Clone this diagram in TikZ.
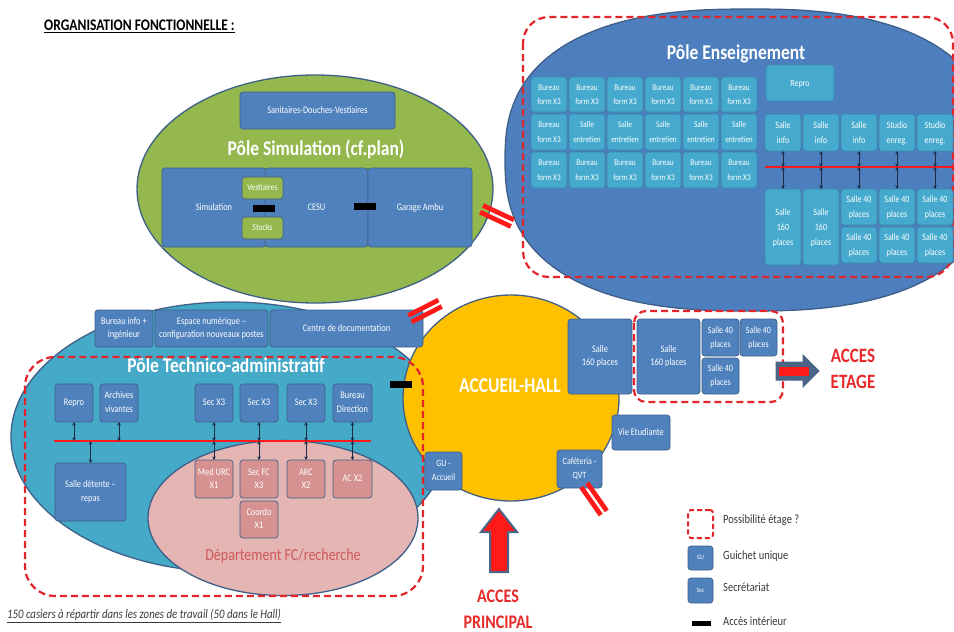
\documentclass[tikz,border=0pt]{standalone}
\usepackage{fontspec}
\setmainfont{Carlito}
\usepackage{graphicx}
\usetikzlibrary{arrows.meta,shapes.geometric}

\definecolor{bord}{HTML}{3E5F88}
\definecolor{cBlue}{HTML}{4F81BD}
\definecolor{cEns}{HTML}{4D7EBD}
\definecolor{cTealB}{HTML}{45AACD}
\definecolor{cTealD}{HTML}{3A86AC}
\definecolor{cTech}{HTML}{45A9C8}
\definecolor{cGreen}{HTML}{94B84E}
\definecolor{cPink}{HTML}{E5B5B4}
\definecolor{cPinkBox}{HTML}{D69291}
\definecolor{cPinkTxt}{HTML}{CE5A58}
\definecolor{cYel}{HTML}{FFC000}
\definecolor{cRed}{HTML}{FF1A1A}
\definecolor{cDash}{HTML}{E2252B}
\definecolor{cTxtRed}{HTML}{E82A2A}
\definecolor{cNavy}{HTML}{1C2B45}
\definecolor{cSlate}{HTML}{4A6585}
\definecolor{cGray}{HTML}{3A3A3A}

\newcommand{\T}[1]{\scalebox{1}[1.2]{\begin{tabular}{@{}c@{}}#1\end{tabular}}}
\newcommand{\bx}[7]{\node[#2, minimum width={((#5)-(#3))*1pt}, minimum height={((#6)-(#4))*1pt}] (#1) at ({((#3)+(#5))/2},{((#4)+(#6))/2}) {\T{#7}};}
\newcommand{\dbar}[3]{\begin{scope}[shift={(#1,#2)},rotate=#3]
 \fill[cRed] (-17,-6) rectangle (17,-1.3);
 \fill[cRed] (-17,1.3) rectangle (17,6);
\end{scope}}

\tikzset{
 base/.style={draw=bord, line width=0.7pt, rounded corners=3pt, inner sep=0pt, outer sep=0pt, text=white},
 bbox/.style={base, fill=cBlue, font=\fontsize{8.4}{11.2}\selectfont},
 bboxs/.style={base, fill=cBlue, font=\fontsize{8}{11.5}\selectfont},
 gbox/.style={base, fill=cGreen, font=\fontsize{7.8}{10}\selectfont},
 ebox/.style={base, draw=cTealD, fill=cTealB, font=\fontsize{7.3}{12}\selectfont},
 ebox2/.style={base, draw=cTealD, fill=cTealB, font=\fontsize{8}{12.5}\selectfont},
 pbox/.style={base, fill=cPinkBox, font=\fontsize{8.4}{11}\selectfont},
 region/.style={ellipse, draw=bord, line width=1.3pt, inner sep=0pt},
 pole/.style={text=white, inner sep=0pt, font=\bfseries\fontsize{17.5}{20}\selectfont},
 dashbox/.style={draw=cDash, line width=2.2pt, dash pattern=on 7pt off 4pt},
 dar/.style={{Stealth[length=3.5pt,width=3.5pt]}-{Stealth[length=3.5pt,width=3.5pt]}, draw=cNavy, line width=0.8pt},
 redline/.style={draw=cRed, line width=1.6pt},
 accbar/.style={fill=black, draw=none, inner sep=0pt},
 legtxt/.style={anchor=west, inner sep=0pt, text=cGray, font=\fontsize{10.5}{12}\selectfont},
}

\begin{document}
\begin{tikzpicture}[x=1pt,y=-1pt]
\useasboundingbox (0,0) rectangle (954,632);
\fill[white] (0,0) rectangle (954,632);

% ---------- title ----------
\node[anchor=west, inner sep=0pt, font=\bfseries\fontsize{13.5}{16}\selectfont] (title) at (44,27) {\T{\underline{ORGANISATION FONCTIONNELLE :}}};

% ---------- Pole Enseignement ----------
\draw[fill=cEns, draw=bord, line width=1.3pt] plot[domain=1.5:358.5, samples=120, variable=\t]
  ({750+245*sign(cos(\t))*abs(cos(\t))^0.8}, {160+151*sign(sin(\t))*abs(sin(\t))^0.8}) -- cycle;
\draw[dashbox, rounded corners=26pt] (523,17) rectangle (953,277);
\node[pole] (tEns) at (736,55) {\T{Pôle Enseignement}};

\foreach \c in {0,...,5} {
  \bx{ea\c}{ebox}{531+38*\c}{77}{567+38*\c}{112}{Bureau\\form X3}
  \bx{ec\c}{ebox}{531+38*\c}{152}{567+38*\c}{188}{Bureau\\form X3}
}
\bx{eb0}{ebox}{531}{114}{567}{150}{Bureau\\form X3}
\foreach \c in {1,...,5} {
  \bx{eb\c}{ebox}{531+38*\c}{114}{567+38*\c}{150}{Salle\\entretien}
}
\bx{erepro}{ebox2}{766}{65}{834}{101}{Repro}

\bx{eu1}{ebox2}{765}{114}{801}{151}{Salle\\info}
\bx{eu2}{ebox2}{803}{114}{839}{151}{Salle\\info}
\bx{eu3}{ebox2}{841}{114}{877}{151}{Salle\\info}
\bx{eu4}{ebox2}{879}{114}{915}{151}{Studio\\enreg.}
\bx{eu5}{ebox2}{917}{114}{953}{151}{Studio\\enreg.}
\coordinate (eline) at (765,167);
\coordinate (elineR) at (954,167);
\draw[redline] (eline) -- (elineR);

\bx{el1}{ebox2}{765}{189}{801}{265}{Salle\\160\\places}
\bx{el2}{ebox2}{803}{189}{839}{265}{Salle\\160\\places}
\bx{el3}{ebox2}{841}{189}{877}{225}{Salle 40\\places}
\bx{el3b}{ebox2}{841}{227}{877}{263}{Salle 40\\places}
\bx{el4}{ebox2}{879}{189}{915}{225}{Salle 40\\places}
\bx{el4b}{ebox2}{879}{227}{915}{263}{Salle 40\\places}
\bx{el5}{ebox2}{917}{189}{953}{225}{Salle 40\\places}
\bx{el5b}{ebox2}{917}{227}{953}{263}{Salle 40\\places}
\foreach \i in {1,...,5} {
  \draw[dar] (eu\i.south) -- (eu\i.south |- eline);
  \draw[dar] (eu\i.south |- eline) -- (el\i.north);
}

% ---------- Pole Simulation ----------
\node[region, fill=cGreen, minimum width=356pt, minimum height=228pt] (simE) at (315,189) {};
\bx{sanit}{bbox}{240}{92}{395}{129}{Sanitaires-Douches-Vestiaires}
\node[pole] (tSim) at (316,151) {\T{Pôle Simulation (cf.plan)}};
\bx{simu}{bbox}{162}{168}{266}{247}{Simulation}
\bx{cesu}{bbox}{265}{168}{368}{247}{CESU}
\bx{garage}{bbox}{368}{168}{472}{247}{Garage Ambu}
\bx{vest}{gbox}{242}{177}{283}{199}{Vestiaires}
\bx{stocks}{gbox}{242}{217}{283}{239}{Stocks}
\node[accbar, minimum width=22pt, minimum height=7pt] (acc1) at (264,208.5) {};
\node[accbar, minimum width=22pt, minimum height=7pt] (acc2) at (365,206.5) {};
\dbar{497}{216}{-25}

% ---------- Pole Technico-administratif ----------
\node[region, fill=cTech, minimum width=438pt, minimum height=270pt] (techE) at (230,437) {};
\node[region, fill=cPink, minimum width=270pt, minimum height=155pt] (fcE) at (283,518) {};

% ---------- Accueil ----------
\node[region, fill=cYel, minimum width=216pt, minimum height=206pt] (hall) at (511,398) {};
\node[pole] (tHall) at (510,388) {\T{ACCUEIL-HALL}};

\bx{binfo}{bbox}{95}{310}{153}{347}{Bureau info +\\ingénieur}
\bx{espace}{bbox}{155}{310}{268}{347}{Espace numérique –\\configuration nouveaux postes}
\bx{cdoc}{bbox}{270}{310}{423}{347}{Centre de documentation}
\dbar{425}{311}{27}

\node[pole] (tTech) at (226,368) {\T{Pôle Technico-administratif}};
\bx{repro2}{bbox}{55}{384}{93}{422}{Repro}
\bx{archiv}{bbox}{100}{384}{138}{422}{Archives\\vivantes}
\bx{sec1}{bbox}{195}{384}{233}{422}{Sec X3}
\bx{sec2}{bbox}{240}{384}{278}{422}{Sec X3}
\bx{sec3}{bbox}{287}{384}{325}{422}{Sec X3}
\bx{bdir}{bbox}{333}{384}{372}{422}{Bureau\\Direction}
\coordinate (tline) at (54,441);
\coordinate (tlineR) at (371,441);
\draw[redline] (tline) -- (tlineR);
\bx{sdet}{bbox}{55}{463}{126}{521}{Salle détente –\\repas}
\bx{med}{pbox}{195}{460}{233}{498}{Med URC\\X1}
\bx{secfc}{pbox}{240}{460}{278}{498}{Sec FC\\X3}
\bx{arc}{pbox}{287}{460}{325}{498}{ARC\\X2}
\bx{ac}{pbox}{333}{460}{372}{498}{AC X2}
\bx{coordo}{pbox}{240}{501}{278}{538}{Coordo\\X1}
\draw[dar] (repro2.south) -- (repro2.south |- tline);
\draw[dar] (archiv.south) -- (archiv.south |- tline);
\draw[dar] (sdet.north |- tline) -- (sdet.north);
\foreach \a/\b in {sec1/med, sec2/secfc, sec3/arc, bdir/ac} {
  \draw[dar] (\a.south) -- (\a.south |- tline);
  \draw[dar] (\a.south |- tline) -- (\b.north);
}
\node[inner sep=0pt, text=cPinkTxt, font=\fontsize{14}{16}\selectfont] (tFC) at (283,557) {\T{Département FC/recherche}};
\draw[dashbox, rounded corners=30pt] (25,357) rectangle (423,596);
\node[accbar, minimum width=22pt, minimum height=7pt] (acc3) at (401,384) {};

% ---------- hall rooms ----------
\bx{hs160}{bbox}{568}{319}{632}{394}{Salle\\160 places}
\bx{hs160b}{bbox}{637}{319}{700}{394}{Salle\\160 places}
\bx{hs40a}{bboxs}{702}{319}{739}{356}{Salle 40\\places}
\bx{hs40b}{bboxs}{740}{319}{777}{356}{Salle 40\\places}
\bx{hs40c}{bboxs}{702}{358}{739}{394}{Salle 40\\places}
\draw[dashbox, rounded corners=12pt] (634,311) rectangle (783,402);
\bx{vie}{bbox}{612}{415}{670}{450}{Vie Etudiante}
\bx{gu}{bboxs}{425}{452}{462}{490}{GU -\\Accueil}
\bx{caf}{bboxs}{557}{450}{602}{488}{Caféteria -\\QVT}
\dbar{594}{499}{-55}

% ---------- access arrows ----------
\draw[draw=cSlate, fill=cSlate, line width=1pt, line join=miter] (776,362) -- (803,362) -- (803,355) -- (819,371) -- (803,387) -- (803,380) -- (776,380) -- cycle;
\fill[cRed] (778.5,366.5) rectangle (809,375.5);
\node[inner sep=0pt, text=cTxtRed, font=\bfseries\fontsize{17}{21.5}\selectfont] (tEtage) at (853,370) {\T{ACCES\\ETAGE}};

\draw[draw=cSlate, fill=cRed, line width=2pt, line join=miter] (490,572) -- (490,532) -- (481,532) -- (499,509) -- (517,532) -- (508,532) -- (508,572) -- cycle;
\node[inner sep=0pt, text=cTxtRed, font=\bfseries\fontsize{16}{21}\selectfont] (tPrinc) at (498,610.5) {\T{ACCES\\PRINCIPAL}};

% ---------- legend ----------
\node[draw=cDash, line width=2pt, dash pattern=on 5pt off 3pt, rounded corners=3pt, minimum width=25pt, minimum height=28pt, inner sep=0pt] (legD) at (700.5,524) {};
\node[legtxt] (legDt) at (723,521) {\T{Possibilité étage ?}};
\bx{legGU}{bbox, font=\fontsize{5.5}{7}\selectfont}{688}{546}{713}{570}{GU}
\node[legtxt] (legGUt) at (723,557) {\T{Guichet unique}};
\bx{legSec}{bbox, font=\fontsize{5.5}{7}\selectfont}{688}{578}{713}{603}{Sec}
\node[legtxt] (legSect) at (723,589) {\T{Secrétariat}};
\node[accbar, minimum width=19pt, minimum height=5pt] (legA) at (701.5,623) {};
\node[legtxt] (legAt) at (723,623) {\T{Accès intérieur}};

% ---------- note ----------
\node[anchor=west, inner sep=0pt, text=cGray, font=\itshape\fontsize{10.8}{13}\selectfont] (note) at (7,615) {\T{\underline{150 casiers à répartir dans les zones de travail (50 dans le Hall)}}};
\end{tikzpicture}
\end{document}
